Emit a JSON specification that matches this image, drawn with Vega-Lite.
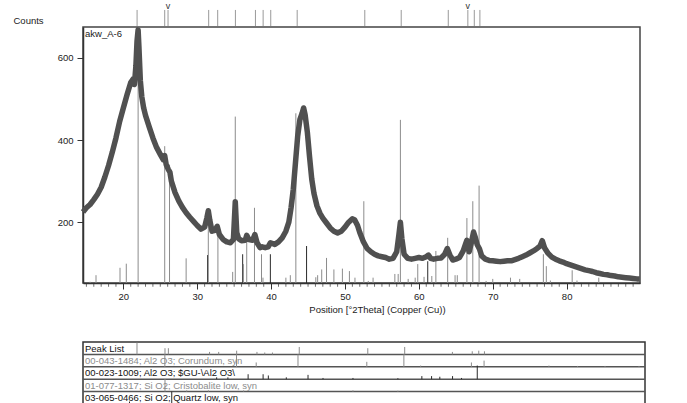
{
  "$schema": "https://vega.github.io/schema/vega-lite/v6.json",
  "padding": {"left": 12, "top": 2, "right": 5, "bottom": 0},
  "config": {
    "font": "Liberation Sans",
    "axis": {"labelFont": "Liberation Sans", "titleFont": "Liberation Sans", "labelColor": "#222", "titleColor": "#222", "tickColor": "#333", "domainColor": "#333", "grid": false, "labelFontSize": 9.5, "titleFontSize": 9.5, "titleFontWeight": "normal"},
    "view": {"stroke": "#444", "strokeWidth": 1.5},
    "text": {"font": "Liberation Sans"}
  },
  "datasets": {
    "curve": [
      {"x":14.54,"y":225},{"x":15.0,"y":235},{"x":15.5,"y":243},{"x":16.0,"y":255},{"x":16.5,"y":268},{"x":17.0,"y":285},{"x":17.5,"y":310},{"x":18.0,"y":338},{"x":18.5,"y":370},{"x":19.0,"y":405},{"x":19.5,"y":445},{"x":20.0,"y":478},{"x":20.5,"y":510},{"x":21.0,"y":540},{"x":21.3,"y":548},{"x":21.5,"y":535},{"x":21.7,"y":580},{"x":21.85,"y":640},{"x":22.0,"y":668},{"x":22.1,"y":630},{"x":22.3,"y":545},{"x":22.5,"y":505},{"x":22.75,"y":478},{"x":23.0,"y":460},{"x":23.5,"y":432},{"x":24.0,"y":405},{"x":24.5,"y":382},{"x":25.0,"y":365},{"x":25.4,"y":352},{"x":25.6,"y":362},{"x":25.8,"y":340},{"x":26.1,"y":328},{"x":26.3,"y":322},{"x":26.5,"y":300},{"x":27.0,"y":272},{"x":27.5,"y":252},{"x":28.0,"y":236},{"x":28.5,"y":223},{"x":29.0,"y":212},{"x":29.5,"y":202},{"x":30.0,"y":192},{"x":30.5,"y":183},{"x":31.0,"y":188},{"x":31.3,"y":210},{"x":31.5,"y":228},{"x":31.7,"y":205},{"x":32.0,"y":178},{"x":32.4,"y":180},{"x":32.7,"y":190},{"x":33.0,"y":170},{"x":33.5,"y":158},{"x":34.0,"y":152},{"x":34.5,"y":150},{"x":34.9,"y":158},{"x":35.15,"y":250},{"x":35.35,"y":175},{"x":35.6,"y":160},{"x":36.0,"y":155},{"x":36.5,"y":156},{"x":36.7,"y":168},{"x":37.0,"y":158},{"x":37.5,"y":156},{"x":37.8,"y":170},{"x":38.1,"y":150},{"x":38.5,"y":138},{"x":38.8,"y":140},{"x":39.2,"y":138},{"x":39.6,"y":140},{"x":39.9,"y":150},{"x":40.5,"y":146},{"x":41.0,"y":152},{"x":41.5,"y":162},{"x":42.0,"y":178},{"x":42.4,"y":200},{"x":42.7,"y":235},{"x":43.0,"y":280},{"x":43.3,"y":345},{"x":43.6,"y":410},{"x":43.9,"y":450},{"x":44.2,"y":465},{"x":44.4,"y":478},{"x":44.6,"y":462},{"x":44.9,"y":420},{"x":45.2,"y":360},{"x":45.5,"y":305},{"x":45.8,"y":270},{"x":46.2,"y":240},{"x":46.6,"y":222},{"x":47.0,"y":210},{"x":47.5,"y":198},{"x":48.0,"y":186},{"x":48.5,"y":178},{"x":49.0,"y":174},{"x":49.5,"y":178},{"x":50.0,"y":188},{"x":50.5,"y":200},{"x":51.0,"y":208},{"x":51.3,"y":206},{"x":51.7,"y":192},{"x":52.0,"y":175},{"x":52.5,"y":152},{"x":53.0,"y":136},{"x":53.5,"y":128},{"x":54.0,"y":122},{"x":54.5,"y":118},{"x":55.0,"y":116},{"x":55.5,"y":114},{"x":56.0,"y":110},{"x":56.5,"y":112},{"x":57.0,"y":128},{"x":57.3,"y":170},{"x":57.5,"y":200},{"x":57.7,"y":160},{"x":58.0,"y":122},{"x":58.5,"y":112},{"x":59.0,"y":110},{"x":59.5,"y":112},{"x":60.0,"y":114},{"x":60.5,"y":112},{"x":61.0,"y":116},{"x":61.3,"y":120},{"x":61.6,"y":112},{"x":62.0,"y":110},{"x":62.5,"y":112},{"x":63.0,"y":113},{"x":63.5,"y":122},{"x":63.85,"y":136},{"x":64.2,"y":120},{"x":64.6,"y":108},{"x":65.0,"y":110},{"x":65.5,"y":114},{"x":66.0,"y":130},{"x":66.3,"y":146},{"x":66.5,"y":156},{"x":66.8,"y":128},{"x":67.1,"y":150},{"x":67.4,"y":176},{"x":67.6,"y":165},{"x":67.9,"y":145},{"x":68.2,"y":135},{"x":68.5,"y":118},{"x":69.0,"y":110},{"x":69.5,"y":107},{"x":70.0,"y":106},{"x":70.5,"y":105},{"x":71.0,"y":104},{"x":71.5,"y":105},{"x":72.0,"y":106},{"x":72.5,"y":106},{"x":73.0,"y":109},{"x":73.5,"y":112},{"x":74.0,"y":116},{"x":74.5,"y":120},{"x":75.0,"y":125},{"x":75.5,"y":130},{"x":76.0,"y":136},{"x":76.4,"y":142},{"x":76.7,"y":155},{"x":77.0,"y":138},{"x":77.5,"y":124},{"x":78.0,"y":115},{"x":78.5,"y":110},{"x":79.0,"y":106},{"x":79.5,"y":103},{"x":80.0,"y":99},{"x":80.5,"y":96},{"x":81.0,"y":93},{"x":81.5,"y":90},{"x":82.0,"y":87},{"x":82.5,"y":84},{"x":83.0,"y":82},{"x":83.5,"y":80},{"x":84.0,"y":77},{"x":84.5,"y":75},{"x":85.0,"y":73},{"x":85.5,"y":72},{"x":86.0,"y":70},{"x":86.5,"y":69},{"x":87.0,"y":67},{"x":87.5,"y":66},{"x":88.0,"y":65},{"x":88.5,"y":64},{"x":89.0,"y":63},{"x":89.5,"y":62},{"x":89.9,"y":62}
    ],
    "sticks": [
      {"x":15.5,"h":55,"s":"g"},{"x":16.3,"h":71,"s":"g"},{"x":19.55,"h":89,"s":"g"},{"x":20.4,"h":99,"s":"g"},{"x":22.0,"h":675,"s":"g"},{"x":25.6,"h":385,"s":"g"},{"x":26.25,"h":340,"s":"g"},{"x":28.5,"h":112,"s":"g"},{"x":31.4,"h":120,"s":"d"},{"x":31.5,"h":225,"s":"g"},{"x":32.8,"h":185,"s":"g"},{"x":34.8,"h":79,"s":"g"},{"x":35.15,"h":457,"s":"g"},{"x":36.15,"h":122,"s":"d"},{"x":36.25,"h":98,"s":"g"},{"x":36.7,"h":171,"s":"g"},{"x":37.75,"h":235,"s":"g"},{"x":38.7,"h":122,"s":"g"},{"x":38.9,"h":65,"s":"g"},{"x":39.9,"h":122,"s":"d"},{"x":42.0,"h":65,"s":"g"},{"x":42.6,"h":71,"s":"g"},{"x":43.35,"h":465,"s":"g"},{"x":44.8,"h":142,"s":"d"},{"x":46.05,"h":66,"s":"g"},{"x":46.3,"h":71,"s":"g"},{"x":46.85,"h":85,"s":"g"},{"x":47.5,"h":113,"s":"g"},{"x":48.5,"h":85,"s":"g"},{"x":49.65,"h":87,"s":"g"},{"x":50.6,"h":81,"s":"g"},{"x":51.35,"h":65,"s":"g"},{"x":52.55,"h":251,"s":"g"},{"x":53.15,"h":57,"s":"g"},{"x":53.8,"h":65,"s":"g"},{"x":56.75,"h":74,"s":"g"},{"x":57.2,"h":74,"s":"g"},{"x":57.5,"h":449,"s":"g"},{"x":58.55,"h":62,"s":"g"},{"x":59.5,"h":65,"s":"g"},{"x":59.85,"h":98,"s":"g"},{"x":60.7,"h":67,"s":"g"},{"x":61.2,"h":105,"s":"d"},{"x":61.75,"h":69,"s":"g"},{"x":62.3,"h":130,"s":"g"},{"x":63.9,"h":162,"s":"g"},{"x":64.9,"h":71,"s":"g"},{"x":65.2,"h":71,"s":"g"},{"x":66.5,"h":210,"s":"g"},{"x":67.3,"h":251,"s":"g"},{"x":68.15,"h":289,"s":"g"},{"x":69.1,"h":57,"s":"g"},{"x":70.0,"h":62,"s":"g"},{"x":72.4,"h":65,"s":"g"},{"x":73.65,"h":62,"s":"g"},{"x":76.85,"h":122,"s":"g"},{"x":77.25,"h":93,"s":"g"},{"x":77.8,"h":58,"s":"g"},{"x":80.75,"h":83,"s":"g"},{"x":81.4,"h":58,"s":"g"},{"x":84.35,"h":65,"s":"g"}
    ],
    "minor": [
      {"x":15},{"x":16},{"x":17},{"x":18},{"x":19},{"x":21},{"x":22},{"x":23},{"x":24},{"x":25},{"x":26},{"x":27},{"x":28},{"x":29},{"x":31},{"x":32},{"x":33},{"x":34},{"x":35},{"x":36},{"x":37},{"x":38},{"x":39},{"x":41},{"x":42},{"x":43},{"x":44},{"x":45},{"x":46},{"x":47},{"x":48},{"x":49},{"x":51},{"x":52},{"x":53},{"x":54},{"x":55},{"x":56},{"x":57},{"x":58},{"x":59},{"x":61},{"x":62},{"x":63},{"x":64},{"x":65},{"x":66},{"x":67},{"x":68},{"x":69},{"x":71},{"x":72},{"x":73},{"x":74},{"x":75},{"x":76},{"x":77},{"x":78},{"x":79},{"x":81},{"x":82},{"x":83},{"x":84},{"x":85},{"x":86},{"x":87},{"x":88},{"x":89}
    ],
    "peaks": [
      {"x":21.86},{"x":25.6},{"x":26.05},{"x":31.55},{"x":32.77},{"x":35.17},{"x":37.88},{"x":38.92},{"x":39.95},{"x":43.53},{"x":52.68},{"x":57.61},{"x":63.98},{"x":66.63},{"x":67.5},{"x":68.26}
    ],
    "vmarks": [{"x":26.05},{"x":66.63}],
    "rows": [
      {"r":0,"label":"Peak List","s":"d"},
      {"r":1,"label":"00-043-1484; Al2 O3; Corundum, syn","s":"g"},
      {"r":2,"label":"00-023-1009; Al2 O3; $GU-\\Al2 O3\\","s":"d"},
      {"r":3,"label":"01-077-1317; Si O2; Cristobalite low, syn","s":"g"},
      {"r":4,"label":"03-065-0466; Si O2; Quartz low, syn","s":"d"}
    ],
    "seps": [{"b":1},{"b":2},{"b":3},{"b":4}],
    "pticks": [
      {"x":21.86,"lo":1,"hi":0.05,"s":"g"},{"x":25.6,"lo":1,"hi":0.5,"s":"g"},{"x":26.05,"lo":1,"hi":0.5,"s":"g"},{"x":31.55,"lo":1,"hi":0.8,"s":"g"},{"x":32.77,"lo":1,"hi":0.8,"s":"g"},{"x":35.17,"lo":1,"hi":0.7,"s":"g"},{"x":37.88,"lo":1,"hi":0.8,"s":"g"},{"x":38.92,"lo":1,"hi":0.85,"s":"g"},{"x":39.95,"lo":1,"hi":0.85,"s":"g"},{"x":43.53,"lo":1,"hi":0.4,"s":"g"},{"x":52.68,"lo":1,"hi":0.5,"s":"g"},{"x":57.61,"lo":1,"hi":0.4,"s":"g"},{"x":63.98,"lo":1,"hi":0.8,"s":"g"},{"x":66.63,"lo":1,"hi":0.75,"s":"g"},{"x":67.5,"lo":1,"hi":0.7,"s":"g"},{"x":68.26,"lo":1,"hi":0.75,"s":"g"},
      {"x":25.58,"lo":2,"hi":1.0,"s":"g"},{"x":35.15,"lo":2,"hi":1.0,"s":"g"},{"x":37.78,"lo":2,"hi":1.65,"s":"g"},{"x":43.36,"lo":2,"hi":1.0,"s":"g"},{"x":52.55,"lo":2,"hi":1.6,"s":"g"},{"x":57.5,"lo":2,"hi":1.0,"s":"g"},{"x":59.74,"lo":2,"hi":1.9,"s":"g"},{"x":66.52,"lo":2,"hi":1.65,"s":"g"},{"x":68.21,"lo":2,"hi":1.5,"s":"g"},{"x":76.87,"lo":2,"hi":1.9,"s":"g"},{"x":80.7,"lo":2,"hi":1.93,"s":"g"},{"x":84.36,"lo":2,"hi":1.93,"s":"g"},{"x":88.9,"lo":2,"hi":1.93,"s":"g"},
      {"x":32.5,"lo":3,"hi":2.85,"s":"d"},{"x":34.0,"lo":3,"hi":2.85,"s":"d"},{"x":36.7,"lo":3,"hi":2.6,"s":"d"},{"x":38.7,"lo":3,"hi":2.6,"s":"d"},{"x":39.4,"lo":3,"hi":2.7,"s":"d"},{"x":41.8,"lo":3,"hi":2.85,"s":"d"},{"x":44.7,"lo":3,"hi":2.65,"s":"d"},{"x":46.7,"lo":3,"hi":2.9,"s":"d"},{"x":50.7,"lo":3,"hi":2.9,"s":"d"},{"x":56.7,"lo":3,"hi":2.92,"s":"d"},{"x":59.9,"lo":3,"hi":2.75,"s":"d"},{"x":61.2,"lo":3,"hi":2.75,"s":"d"},{"x":62.3,"lo":3,"hi":2.8,"s":"d"},{"x":64.0,"lo":3,"hi":2.75,"s":"d"},{"x":65.2,"lo":3,"hi":2.9,"s":"d"},{"x":67.3,"lo":3,"hi":1.9,"s":"d"},
      {"x":25.6,"lo":4,"hi":3.0,"s":"g"},{"x":28.5,"lo":4,"hi":3.9,"s":"g"},{"x":31.4,"lo":4,"hi":3.9,"s":"g"},{"x":36.1,"lo":4,"hi":3.9,"s":"g"},{"x":50.7,"lo":4,"hi":3.9,"s":"g"},{"x":56.7,"lo":4,"hi":3.93,"s":"g"},
      {"x":20.86,"lo":5,"hi":4.8,"s":"d"},{"x":26.5,"lo":5,"hi":4.0,"s":"d"}
    ]
  },
  "spacing": 26,
  "vconcat": [
    {
      "spacing": -13,
      "vconcat": [
        {
          "width": 557, "height": 24,
          "view": {"stroke": null},
          "layer": [
            {
              "data": {"name": "peaks"},
              "mark": {"type": "rule", "color": "#999", "strokeWidth": 1},
              "encoding": {
                "x": {"field": "x", "type": "quantitative", "scale": {"domain": [14.54, 89.93], "nice": false, "zero": false}, "axis": null},
                "y": {"datum": 0.04, "type": "quantitative", "scale": {"domain": [0, 1], "nice": false}, "axis": null},
                "y2": {"datum": 0.71}
              }
            },
            {
              "data": {"name": "vmarks"},
              "mark": {"type": "text", "text": "v", "fontSize": 9, "color": "#333", "baseline": "middle"},
              "encoding": {
                "x": {"field": "x", "type": "quantitative", "axis": null},
                "y": {"datum": 0.86, "type": "quantitative", "axis": null}
              }
            }
          ]
        },
        {
          "width": 557, "height": 256,
          "layer": [
            {
              "data": {"name": "sticks"},
              "mark": {"type": "rule", "strokeWidth": 1},
              "encoding": {
                "x": {"field": "x", "type": "quantitative", "scale": {"domain": [14.54, 89.93], "nice": false, "zero": false},
                      "axis": {"values": [20,30,40,50,60,70,80], "tickSize": 6, "labelPadding": 2, "domainWidth": 1.5, "title": "Position [°2Theta] (Copper (Cu))", "titlePadding": 4, "titleX": 294}},
                "y": {"field": "h", "type": "quantitative", "scale": {"domain": [52, 675], "nice": false, "zero": false},
                      "axis": {"values": [200,400,600], "tickSize": 6, "labelPadding": 4, "domainWidth": 1.5, "title": "Counts", "titleAngle": 0, "titleX": -70, "titleY": -4, "titleAlign": "left", "titleBaseline": "alphabetic"}},
                "y2": {"datum": 52},
                "color": {"field": "s", "type": "nominal", "scale": {"domain": ["g","d"], "range": ["#8c8c8c", "#2a2a2a"]}, "legend": null}
              }
            },
            {
              "data": {"name": "minor"},
              "mark": {"type": "tick", "orient": "vertical", "color": "#333", "size": 3.5, "thickness": 1, "yOffset": 2, "clip": false},
              "encoding": {
                "x": {"field": "x", "type": "quantitative"},
                "y": {"datum": 52, "type": "quantitative"}
              }
            },
            {
              "data": {"name": "curve"},
              "mark": {"type": "line", "color": "#505050", "strokeWidth": 5.5, "strokeJoin": "round"},
              "encoding": {
                "x": {"field": "x", "type": "quantitative"},
                "y": {"field": "y", "type": "quantitative"}
              }
            },
            {
              "data": {"values": [{"t": "akw_A-6"}]},
              "mark": {"type": "text", "align": "left", "baseline": "top", "fontSize": 9.5, "color": "#222", "dx": 2, "dy": 2},
              "encoding": {
                "x": {"datum": 14.54, "type": "quantitative"},
                "y": {"datum": 675, "type": "quantitative"},
                "text": {"field": "t"}
              }
            }
          ]
        }
      ]
    },
    {
      "width": 562, "height": 62,
      "view": {"stroke": "#333", "strokeWidth": 1.5},
      "layer": [
        {
          "data": {"name": "seps"},
          "mark": {"type": "rule", "color": "#555", "strokeWidth": 1.5},
          "encoding": {
            "y": {"field": "b", "type": "quantitative", "scale": {"domain": [0, 5], "reverse": true, "nice": false, "zero": false}, "axis": null}
          }
        },
        {
          "data": {"name": "pticks"},
          "mark": {"type": "rule", "strokeWidth": 1},
          "encoding": {
            "x": {"field": "x", "type": "quantitative", "scale": {"domain": [14.65, 89.7], "nice": false, "zero": false}, "axis": null},
            "y": {"field": "lo", "type": "quantitative"},
            "y2": {"field": "hi"},
            "color": {"field": "s", "type": "nominal", "scale": {"domain": ["g","d"], "range": ["#8c8c8c", "#2a2a2a"]}, "legend": null}
          }
        },
        {
          "data": {"name": "rows"},
          "mark": {"type": "text", "align": "left", "baseline": "top", "fontSize": 9.5, "dx": 2, "dy": 1.5},
          "encoding": {
            "x": {"datum": 14.65, "type": "quantitative"},
            "y": {"field": "r", "type": "quantitative"},
            "text": {"field": "label"},
            "color": {"field": "s", "type": "nominal", "scale": {"domain": ["g","d"], "range": ["#8c8c8c", "#111"]}, "legend": null}
          }
        }
      ],
      "resolve": {"scale": {"color": "independent"}}
    }
  ],
  "resolve": {"scale": {"x": "independent", "y": "independent", "color": "independent"}}
}
